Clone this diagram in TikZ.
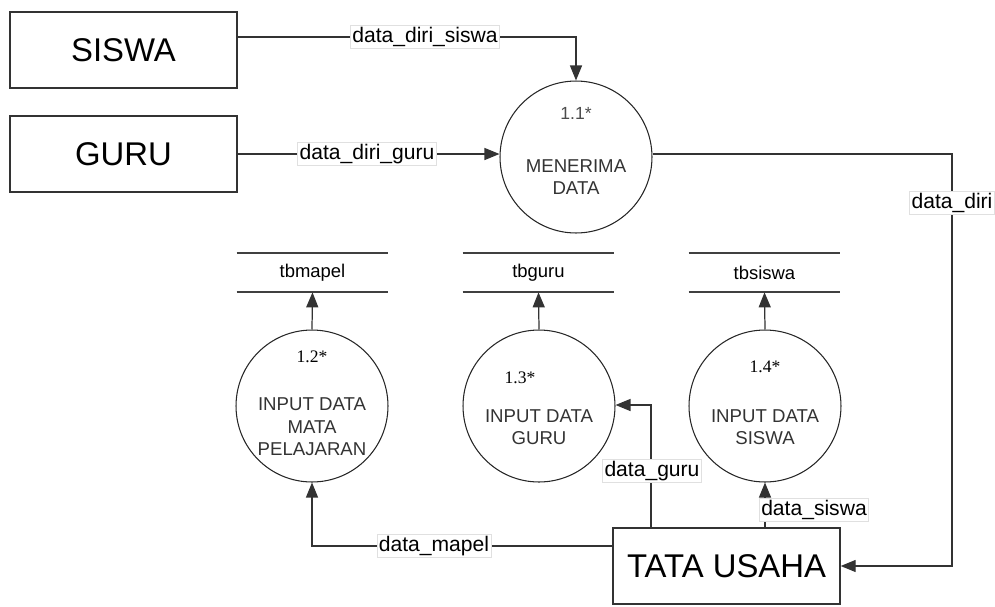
\documentclass[tikz,border=0pt]{standalone}
\usepackage{fontspec}
\setmainfont{Liberation Sans}
\newfontfamily\numfont{Liberation Serif}
\usepackage{tikz}
\usetikzlibrary{calc}
\usetikzlibrary{positioning}
\usetikzlibrary{arrows.meta}
\tikzset{
  entity/.style = {draw=black!80, line width=0.8pt, minimum width=4.54cm,
    minimum height=1.52cm, inner sep=0pt, font=\fontsize{18.7}{22}\selectfont},
  proses/.style = {circle, draw=black!85, line width=0.6pt, minimum size=3.04cm,
    inner sep=0pt},% lingkaran proses
  ptext/.style = {align=center, text=black!80, font=\fontsize{10.6}{12.8}\selectfont},
  pnum/.style = {font=\numfont\fontsize{10}{12}\selectfont},
  store/.style = {minimum width=3.02cm, minimum height=0.78cm, inner sep=0pt,
    font=\fontsize{10.5}{12}\selectfont},
  flow/.style = {draw=black!80, line width=0.7pt, -{Triangle[length=0.3cm,width=0.24cm]}},
  flabel/.style = {fill=white, draw=black!12, line width=0.4pt, inner sep=1pt,
    font=\fontsize{12}{14}\selectfont},
}

\begin{document}
\begin{tikzpicture}[x=0.02cm,y=-0.02cm]
\useasboundingbox (0,0) rectangle (995,606);

% entitas luar
\node [entity] (siswa) at (123.5,50) {SISWA};
\node [entity] (guru) at (123.5,154) {GURU};
\node [entity] (tata) at (726.5,566) {TATA USAHA};

% proses
\node [proses] (p11) at (576,157) {};
\node [text=black!70, font=\fontsize{10}{12}\selectfont] at (576,113) {1.1*};
\node [ptext] at (576,177) {MENERIMA\\DATA};

\node [proses] (p12) at (312,406) {};
\node [pnum] at (312,357) {1.2*};
\node [ptext] at (312,427) {INPUT DATA\\MATA\\PELAJARAN};

\node [proses] (p13) at (539,406) {};
\node [pnum] at (520,378) {1.3*};
\node [ptext] at (539,427) {INPUT DATA\\GURU};

\node [proses] (p14) at (765,406) {};
\node [pnum] at (765,367) {1.4*};
\node [ptext] at (765,427) {INPUT DATA\\SISWA};

% data store
\node [store] (mapel) at (312.5,272.5) {tbmapel};
\node [store] (tbguru) at (538.5,272.5) {tbguru};
\node [store] (tbsiswa) at (764.5,272.5) {tbsiswa};
\foreach \s in {mapel,tbguru,tbsiswa} {
  \draw [black!75, line width=1pt] (\s.north west) -- (\s.north east);
  \draw [black!75, line width=1pt] (\s.south west) -- (\s.south east);
}

% aliran data
\coordinate (k1) at (576,37);
\coordinate (k2) at (952,154);
\coordinate (k3) at (312,546);
\coordinate (k4) at (651,405);

\draw [flow] (siswa.east |- k1) -- (k1) -- (p11.north);
\draw [flow] (guru.east) -- (guru.east -| p11.west);
\draw [flow] (p11.east |- k2) -- (k2) -- (k2 |- tata.east) -- (tata.east);
\draw [flow] (tata.west |- k3) -- (k3) -- (p12.south);
\draw [flow] (tata.north -| k4) -- (k4) -- (k4 -| p13.east);
\draw [flow] (tata.north -| p14) -- (p14.south);
\draw [flow] (p12.north) -- (mapel.south);
\draw [flow] (p13.north) -- (tbguru.south);
\draw [flow] (p14.north) -- (tbsiswa.south);

% label aliran
\node [flabel] at (425,37) {data\_diri\_siswa};
\node [flabel] at (367,154) {data\_diri\_guru};
\node [flabel] at (952,203) {data\_diri};
\node [flabel] at (434,546) {data\_mapel};
\node [flabel] at (652,471) {data\_guru};
\node [flabel] at (814,510) {data\_siswa};
\end{tikzpicture}
\end{document}
